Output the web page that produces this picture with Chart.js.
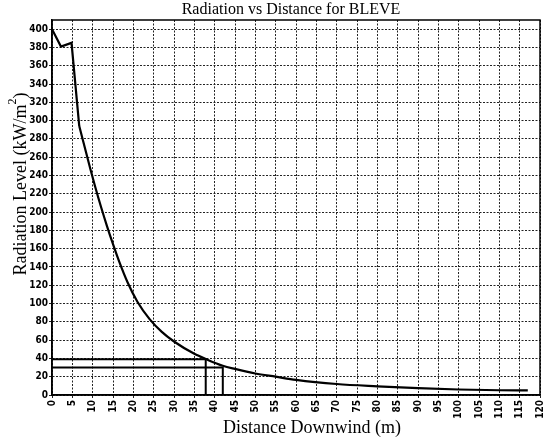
<!DOCTYPE html>
<html>
<head>
<meta charset="utf-8">
<script src="https://cdn.jsdelivr.net/npm/chart.js@4"></script>
<style>
  html, body { margin: 0; padding: 0; background: #fff; }
  #wrap { width: 554px; height: 438px; }
</style>
</head>
<body>
<div id="wrap"><canvas id="bleveChart" width="554" height="438"></canvas></div>
<script>
// values
const distance = [0, 2.2, 4.8, 6.7, 9.5, 10.6, 12.1, 13.5, 15, 16.6, 18.6, 21, 24, 27, 30, 35, 38, 42, 45, 50, 55, 60, 70, 80, 90, 100, 110, 117];
const radiation = [400, 381, 385, 294, 246, 228, 205, 185, 165, 145, 123, 102, 83, 69, 58.5, 45, 39, 32, 28.5, 23.5, 20, 16.5, 12, 9.5, 7.5, 6, 5.2, 5];
const kinkIndex = 3; // straight segments up to here, smooth after

// the two marked levels (horizontal then down to the axis)
const markDistance = [37.8, 42];
const markLevel = [39, 30];

const xTicks = [];
for (let v = 0; v <= 120; v += 5) xTicks.push(v);
const yTicks = [];
for (let v = 0; v <= 400; v += 20) yTicks.push(v);

const curve = distance.map((d, i) => ({ x: d, y: radiation[i] }));
const markSets = markDistance.map((d, i) => ({
  data: [{ x: 0, y: markLevel[i] }, { x: d, y: markLevel[i] }, { x: d, y: 0 }],
  borderColor: "#000",
  borderWidth: 2,
  pointRadius: 0,
  tension: 0,
}));

const tickFont = { family: "'Liberation Sans Narrow', 'DejaVu Sans Condensed', sans-serif", size: 10, weight: "bold" };
const serif = "'Liberation Serif', 'DejaVu Serif', serif";

// box around the plot, chart title and both axis titles
const frame = {
  id: "frame",
  afterDraw(chart) {
    const { ctx, chartArea: a } = chart;
    ctx.save();
    ctx.strokeStyle = "#000";
    ctx.lineWidth = 1.5;
    ctx.strokeRect(a.left, a.top, a.right - a.left, a.bottom - a.top);

    ctx.fillStyle = "#000";
    ctx.textBaseline = "middle";
    ctx.textAlign = "center";
    ctx.font = "16px " + serif;
    ctx.fillText("Radiation vs Distance for BLEVE", 291, 10);

    ctx.font = "18px " + serif;
    ctx.fillText("Distance Downwind (m)", 312, 428);

    // y title, rotated, with superscript 2
    ctx.translate(21, 184);
    ctx.rotate(-Math.PI / 2);
    const main = "Radiation Level (kW/m";
    ctx.font = "18px " + serif;
    const wMain = ctx.measureText(main).width;
    const wClose = ctx.measureText(")").width;
    ctx.font = "12px " + serif;
    const wSup = ctx.measureText("2").width;
    let x = -(wMain + wSup + wClose) / 2;
    ctx.textAlign = "left";
    ctx.font = "18px " + serif;
    ctx.fillText(main, x, 0);
    x += wMain;
    ctx.font = "12px " + serif;
    ctx.fillText("2", x, -8);
    x += wSup;
    ctx.font = "18px " + serif;
    ctx.fillText(")", x, 0);
    ctx.restore();
  },
};

const config = {
  type: "line",
  data: {
    datasets: [
      {
        data: curve.slice(0, kinkIndex + 1),
        borderColor: "#000",
        borderWidth: 2.2,
        pointRadius: 0,
        tension: 0,
      },
      {
        data: curve.slice(kinkIndex),
        borderColor: "#000",
        borderWidth: 2.2,
        pointRadius: 0,
        cubicInterpolationMode: "monotone",
      },
      ...markSets,
    ],
  },
  options: {
    responsive: false,
    animation: false,
    layout: { padding: { top: 20, right: 5, left: 0, bottom: 0 } },
    plugins: { legend: { display: false }, title: { display: false }, tooltip: { enabled: false } },
    scales: {
      x: {
        type: "linear",
        min: 0,
        max: 120,
        afterBuildTicks: (s) => { s.ticks = xTicks.map((v) => ({ value: v })); },
        afterFit: (s) => { s.height = 43; },
        ticks: { color: "#000", font: tickFont, minRotation: 90, maxRotation: 90, padding: 2, autoSkip: false },
        grid: { color: "#222", lineWidth: 1, drawTicks: true, tickLength: 3 },
        border: { color: "#000", width: 1.5, dash: [2, 1.5] },
      },
      y: {
        min: 0,
        max: 410,
        afterBuildTicks: (s) => { s.ticks = yTicks.map((v) => ({ value: v })); },
        afterFit: (s) => { s.width = 52; },
        ticks: { color: "#000", font: tickFont, padding: 1 },
        grid: { color: "#222", lineWidth: 1, tickLength: 3 },
        border: { color: "#000", width: 1.5, dash: [2, 1.5] },
      },
    },
  },
  plugins: [frame],
};

const ctx = document.getElementById("bleveChart").getContext("2d");
const bleveChart = new Chart(ctx, config);
</script>
</body>
</html>
